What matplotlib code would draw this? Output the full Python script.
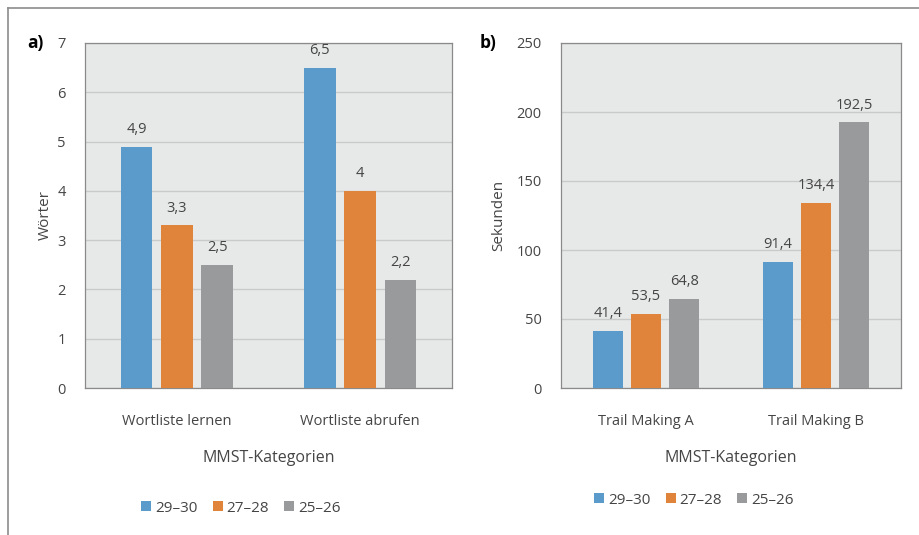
import matplotlib
matplotlib.use("Agg")
import matplotlib.pyplot as plt
import numpy as np
from matplotlib.patches import Patch
from matplotlib.lines import Line2D

plt.rcParams["font.family"] = ["Open Sans", "DejaVu Sans"]

series = ["29–30", "27–28", "25–26"]
colors = ["#5a9bcb", "#e0833b", "#999a9c"]

cats_a = ["Wortliste lernen", "Wortliste abrufen"]
vals_a = [[4.9, 6.5], [3.3, 4.0], [2.5, 2.2]]
labels_a = [["4,9", "6,5"], ["3,3", "4"], ["2,5", "2,2"]]

cats_b = ["Trail Making A", "Trail Making B"]
vals_b = [[41.4, 91.4], [53.5, 134.4], [64.8, 192.5]]
labels_b = [["41,4", "91,4"], ["53,5", "134,4"], ["64,8", "192,5"]]

TXT = "#454545"
FACE = "#e7e8e8"
GRID = "#c9caca"

fig = plt.figure(figsize=(9.2, 5.35), dpi=100)
W, H = 920, 535


def box(x0, x1, ytop, ybot):
    return [x0 / W, 1 - ybot / H, (x1 - x0) / W, (ybot - ytop) / H]


def panel(ax, cats, vals, labels, ymax, step, width, gap, ylabel, ypad):
    x = np.arange(len(cats))
    ax.set_facecolor(FACE)
    for i, (v, lab) in enumerate(zip(vals, labels)):
        xs = x + (i - 1) * gap
        ax.bar(xs, v, width=width, color=colors[i], zorder=3)
        for xx, vv, ll in zip(xs, v, lab):
            ax.annotate(ll, (xx, vv), xytext=(0, 7), textcoords="offset points",
                        ha="center", va="bottom", fontsize=10.5, color=TXT)
    ax.set_xlim(-0.5, len(cats) - 0.5)
    ax.set_ylim(0, ymax)
    ax.set_yticks(np.arange(0, ymax + step / 2, step))
    ax.yaxis.grid(True, color=GRID, linewidth=1, zorder=0)
    ax.set_xticks(x)
    ax.set_xticklabels(cats)
    ax.tick_params(axis="x", length=0, pad=19, labelsize=10.5, colors=TXT)
    ax.tick_params(axis="y", length=0, pad=14, labelsize=10.5, colors=TXT)
    for s in ax.spines.values():
        s.set_color("#8a8a8a")
        s.set_linewidth(0.9)
    ax.set_ylabel(ylabel, fontsize=11, color=TXT, labelpad=ypad)
    ax.set_xlabel("MMST-Kategorien", fontsize=11.5, color=TXT, labelpad=15)


ax_a = fig.add_axes(box(85, 452, 43, 388))
panel(ax_a, cats_a, vals_a, labels_a, 7, 1, 0.172, 0.22, "Wörter", 3)
ax_b = fig.add_axes(box(561, 901, 43, 388))
panel(ax_b, cats_b, vals_b, labels_b, 250, 50, 0.176, 0.225, "Sekunden", 7)

handles = [Patch(facecolor=c, edgecolor="none", label=s) for c, s in zip(colors, series)]
for cx, cy in [(241, 508), (694, 500)]:
    fig.legend(handles=handles, loc="center", bbox_to_anchor=(cx / W, 1 - cy / H), ncol=3,
               frameon=False, handlelength=0.65, handleheight=0.65, handletextpad=0.25,
               columnspacing=1.0, fontsize=11, labelcolor=TXT)

fig.text(27 / W, 1 - 43 / H, "a)", fontsize=12.5, fontweight="bold", ha="left", va="center")
fig.text(480 / W, 1 - 43 / H, "b)", fontsize=12.5, fontweight="bold", ha="left", va="center")

# outer frame (left and top edges)
fig.add_artist(Line2D([8 / W, 8 / W], [0, 1 - 8 / H], transform=fig.transFigure,
                      color="#8c8c8c", linewidth=1.2))
fig.add_artist(Line2D([8 / W, 1], [1 - 8 / H, 1 - 8 / H], transform=fig.transFigure,
                      color="#8c8c8c", linewidth=1.2))

fig.savefig("out.png", dpi=100, facecolor="white")
